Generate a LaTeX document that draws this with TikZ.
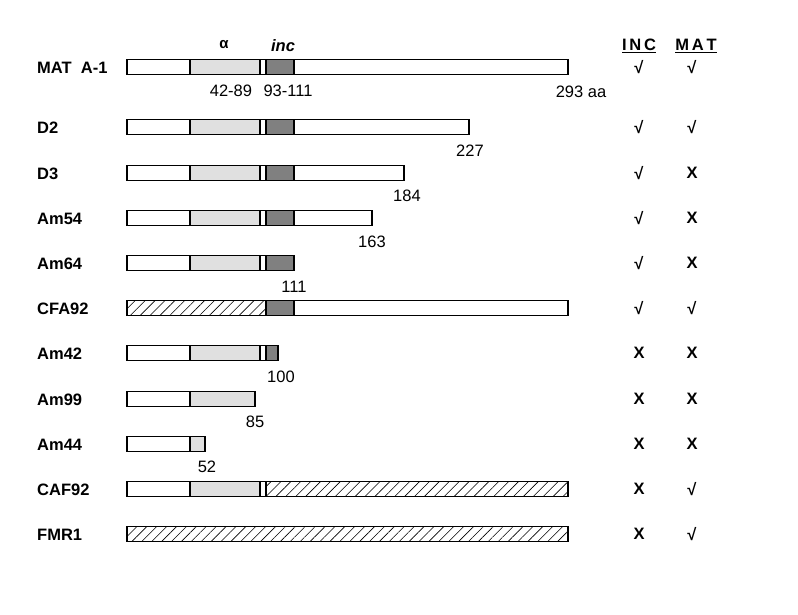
\documentclass[tikz,border=0pt]{standalone}
\usepackage{fontspec}
\setmainfont{Liberation Sans}
\usetikzlibrary{patterns.meta}
\begin{document}
\begin{tikzpicture}[x=1pt,y=-1pt,
  bar/.style={draw=black,line width=1.5pt},
  lg/.style={fill=black!12},
  dg/.style={fill=black!50},
  hat/.style={pattern={Lines[angle=45,distance=7pt,line width=0.6pt]}},
  lab/.style={anchor=west,font=\bfseries\fontsize{16.5}{16.5}\selectfont,inner sep=0},
  num/.style={font=\fontsize{16.5}{16.5}\selectfont,inner sep=0},
  mk/.style={font=\bfseries\fontsize{16.5}{16.5}\selectfont,inner sep=0}]
\useasboundingbox (0,0) rectangle (798,614);
\def\h{7.5}
\newcommand\fullrow[2]{%
  \fill[lg] (190,#1-\h) rectangle (260,#1+\h);
  \fill[dg] (266,#1-\h) rectangle (294,#1+\h);
  \draw[bar] (127,#1-\h) rectangle (#2,#1+\h);
  \draw[bar] (190,#1-\h)--(190,#1+\h) (260,#1-\h)--(260,#1+\h) (266,#1-\h)--(266,#1+\h) (294,#1-\h)--(294,#1+\h);}
\fullrow{67}{568}
\fullrow{127}{469}
\fullrow{173}{404}
\fullrow{218}{372}
\fullrow{263}{294}
% CFA92
\fill[hat] (127,308-\h) rectangle (266,308+\h);
\fill[dg] (266,308-\h) rectangle (294,308+\h);
\draw[bar] (127,308-\h) rectangle (568,308+\h);
\draw[bar] (266,308-\h)--(266,308+\h) (294,308-\h)--(294,308+\h);
% Am42
\fill[lg] (190,353-\h) rectangle (260,353+\h);
\fill[dg] (266,353-\h) rectangle (278,353+\h);
\draw[bar] (127,353-\h) rectangle (278,353+\h);
\draw[bar] (190,353-\h)--(190,353+\h) (260,353-\h)--(260,353+\h) (266,353-\h)--(266,353+\h);
% Am99
\fill[lg] (190,399-\h) rectangle (255,399+\h);
\draw[bar] (127,399-\h) rectangle (255,399+\h);
\draw[bar] (190,399-\h)--(190,399+\h);
% Am44
\fill[lg] (190,444-\h) rectangle (205,444+\h);
\draw[bar] (127,444-\h) rectangle (205,444+\h);
\draw[bar] (190,444-\h)--(190,444+\h);
% CAF92
\fill[lg] (190,489-\h) rectangle (260,489+\h);
\fill[hat] (266,489-\h) rectangle (568,489+\h);
\draw[bar] (127,489-\h) rectangle (568,489+\h);
\draw[bar] (190,489-\h)--(190,489+\h) (260,489-\h)--(260,489+\h) (266,489-\h)--(266,489+\h);
% FMR1
\fill[hat] (127,534-\h) rectangle (568,534+\h);
\draw[bar] (127,534-\h) rectangle (568,534+\h);
% labels
\foreach \t/\y [count=\i] in {MAT\ \ A-1/68,D2/128,D3/174,Am54/219,Am64/264,CFA92/309,Am42/354,Am99/400,Am44/445,CAF92/490,FMR1/535}
  \node[lab] (l\i) at (37,\y) {\t};
\node[font=\bfseries\fontsize{15}{15}\selectfont] (alpha) at (224,45) {α};
\node[font=\bfseries\itshape\fontsize{16.5}{16.5}\selectfont] (inc) at (283,46) {inc};
\node[num] (n1) at (231,91) {42-89};
\node[num] (n2) at (288,91) {93-111};
\node[num] (n3) at (581,92) {293 aa};
\node[num] (n4) at (470,151) {227};
\node[num] (n5) at (407,196) {184};
\node[num] (n6) at (372,242) {163};
\node[num] (n7) at (294,287) {111};
\node[num] (n8) at (281,377) {100};
\node[num] (n9) at (255,422) {85};
\node[num] (n10) at (207,467) {52};
\node[mk] (hi) at (639,46) {\underline{I\,N\,C}};
\node[mk] (hm) at (696,46) {\underline{M\,A\,T}};
\foreach \a/\b/\y [count=\i] in {√/√/67,√/√/127,√/X/173,√/X/218,√/X/263,√/√/308,X/X/353,X/X/399,X/X/444,X/√/489,X/√/534}{
  \node[mk] (ci\i) at (639,\y) {\a};
  \node[mk] (cm\i) at (692,\y) {\b};}
\end{tikzpicture}
\end{document}
